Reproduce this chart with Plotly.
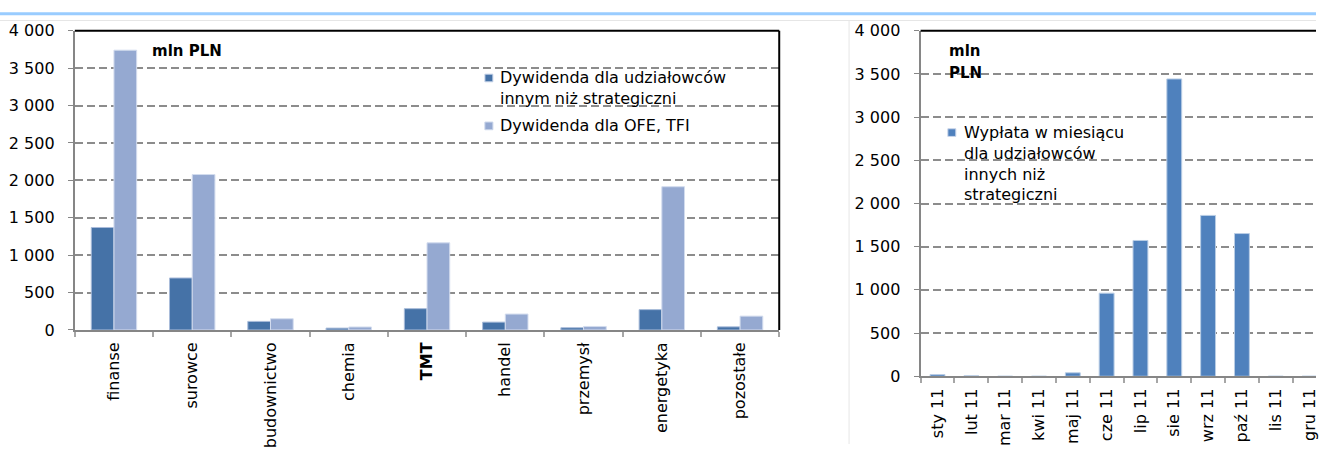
import plotly.graph_objects as go

# --- data -------------------------------------------------------------
sectors = ["finanse", "surowce", "budownictwo", "chemia", "TMT",
           "handel", "przemysł", "energetyka", "pozostałe"]
div_free_float = [1370, 695, 115, 25, 285, 105, 30, 272, 42]
div_ofe_tfi = [3740, 2078, 150, 40, 1165, 213, 47, 1915, 185]

months = ["sty 11", "lut 11", "mar 11", "kwi 11", "maj 11", "cze 11",
          "lip 11", "sie 11", "wrz 11", "paź 11", "lis 11", "gru 11"]
monthly_payout = [20, 5, 0, 0, 40, 962, 1572, 3442, 1862, 1652, 0, 0]

y_tickvals = [0, 500, 1000, 1500, 2000, 2500, 3000, 3500, 4000]
y_ticktext = ["0", "500", "1 000", "1 500", "2 000", "2 500", "3 000", "3 500", "4 000"]

legend_left = ["Dywidenda dla udziałowców<br>innym niż strategiczni",
               "Dywidenda dla OFE, TFI"]
legend_right = "Wypłata w miesiącu<br>dla udziałowców<br>innych niż<br>strategiczni"

# --- page geometry (pixels) ------------------------------------------
W, H = 1319, 454


def px(x):
    return x / W


def py(y):
    return 1 - y / H


FONT = "DejaVu Sans"
DARK = "#4572A7"
LIGHT = "#95A9D1"
MONTH_BLUE = "#4F81BD"
AXIS_GREY = "#868686"
GRID_GREY = "#8c8c8c"

L_LEFT, L_RIGHT, L_TOP, L_BOT = 75, 781, 22.7, 335
R_LEFT, R_TOP, R_BOT = 922.7, 22.7, 383.3
R_CAT = 33.9  # pixel width of one month slot

fig = go.Figure()

fig.add_trace(go.Bar(
    x=sectors, y=div_free_float, name=legend_left[0],
    marker=dict(color=DARK, line=dict(color="#A9BCDA", width=1)),
    xaxis="x", yaxis="y", showlegend=False))
fig.add_trace(go.Bar(
    x=sectors, y=div_ofe_tfi, name=legend_left[1],
    marker=dict(color=LIGHT, line=dict(color="#D3DCEE", width=1)),
    xaxis="x", yaxis="y", showlegend=False))
fig.add_trace(go.Bar(
    x=months, y=monthly_payout, name="Wypłata w miesiącu",
    width=0.44,
    marker=dict(color=MONTH_BLUE, line=dict(color="#B9CDE5", width=1)),
    xaxis="x2", yaxis="y2", showlegend=False))

tick_font = dict(family=FONT, size=16, color="#000000")

common_y = dict(
    range=[0, 4000], tickvals=y_tickvals, ticktext=y_ticktext,
    showgrid=True, gridcolor=GRID_GREY, gridwidth=2, griddash="8px,4px",
    zeroline=False, showline=True, linecolor=AXIS_GREY, linewidth=2,
    ticks="outside", ticklen=5, tickcolor=AXIS_GREY, tickwidth=1,
    tickfont=tick_font, ticklabelstandoff=10, fixedrange=True)

common_x = dict(
    type="category", showgrid=False, zeroline=False,
    showline=True, linecolor=AXIS_GREY, linewidth=2,
    ticks="outside", tickson="boundaries", ticklen=5,
    tickcolor="#A6A6A6", tickwidth=2,
    tickangle=-90, tickfont=tick_font, ticklabelstandoff=4, fixedrange=True)

sector_text = ["<b>%s</b>" % s if s == "TMT" else s for s in sectors]

fig.update_layout(
    width=W, height=H,
    margin=dict(l=0, r=0, t=0, b=0),
    paper_bgcolor="white", plot_bgcolor="white",
    barmode="group", bargap=0.42, bargroupgap=0,
    font=dict(family=FONT, size=16, color="#000000"),
    xaxis=dict(common_x, domain=[px(L_LEFT), px(L_RIGHT)], anchor="y",
               tickvals=sectors, ticktext=sector_text),
    yaxis=dict(common_y, domain=[py(L_BOT), py(L_TOP)], anchor="x"),
    xaxis2=dict(common_x, domain=[px(R_LEFT), 1], anchor="y2",
                range=[-0.5, -0.5 + (W - R_LEFT) / R_CAT]),
    yaxis2=dict(common_y, domain=[py(R_BOT), py(R_TOP)], anchor="x2"),
)

shapes = [
    # page header rules
    dict(type="line", xref="paper", yref="paper", x0=0, x1=1, y0=py(5), y1=py(5),
         line=dict(color="#99CCFF", width=3)),
    dict(type="line", xref="paper", yref="paper", x0=0, x1=1, y0=py(12), y1=py(12),
         line=dict(color="#E6E6E6", width=1)),
    dict(type="line", xref="paper", yref="paper", x0=px(851), x1=px(851), y0=py(12), y1=0,
         line=dict(color="#E6E6E6", width=1)),
    # plot frame: top edge and right edge of the sector chart
    dict(type="line", xref="paper", yref="paper", x0=px(L_LEFT), x1=px(L_RIGHT),
         y0=py(L_TOP), y1=py(L_TOP), line=dict(color="#000000", width=2)),
    dict(type="line", xref="paper", yref="paper", x0=px(L_RIGHT), x1=px(L_RIGHT),
         y0=py(L_TOP), y1=py(L_BOT), line=dict(color="#000000", width=2)),
    dict(type="line", xref="paper", yref="paper", x0=px(R_LEFT), x1=1,
         y0=py(R_TOP), y1=py(R_TOP), line=dict(color="#000000", width=2)),
]


# legend swatches
def swatch(cx, cy, color):
    return dict(type="rect", xref="paper", yref="paper",
                x0=px(cx - 4), x1=px(cx + 4), y0=py(cy + 4), y1=py(cy - 4),
                fillcolor=color, line=dict(color="#C9D5EA", width=1))


shapes += [swatch(490, 72, DARK), swatch(490, 122, LIGHT), swatch(954, 129, MONTH_BLUE)]
fig.update_layout(shapes=shapes)

ann_font = dict(family=FONT, size=16, color="#000000")
bold_font = dict(family=FONT, size=15, color="#000000", weight="bold")
annotations = [
    dict(text="mln PLN", x=px(151), y=py(44), xanchor="left", yanchor="middle",
         font=bold_font),
    dict(text=legend_left[0], x=px(500), y=py(82), xanchor="left", yanchor="middle",
         align="left", font=ann_font),
    dict(text=legend_left[1], x=px(500), y=py(122), xanchor="left", yanchor="middle",
         align="left", font=ann_font),
    dict(text="mln", x=px(950), y=py(44), xanchor="left", yanchor="middle",
         font=bold_font),
    dict(text="PLN", x=px(950), y=py(67), xanchor="left", yanchor="middle",
         font=bold_font),
    dict(text=legend_right, x=px(965), y=py(161.5), xanchor="left", yanchor="middle",
         align="left", font=ann_font),
]
for a in annotations:
    a.update(xref="paper", yref="paper", showarrow=False, borderpad=0)
fig.update_layout(annotations=annotations)

fig.write_html("out.html")
